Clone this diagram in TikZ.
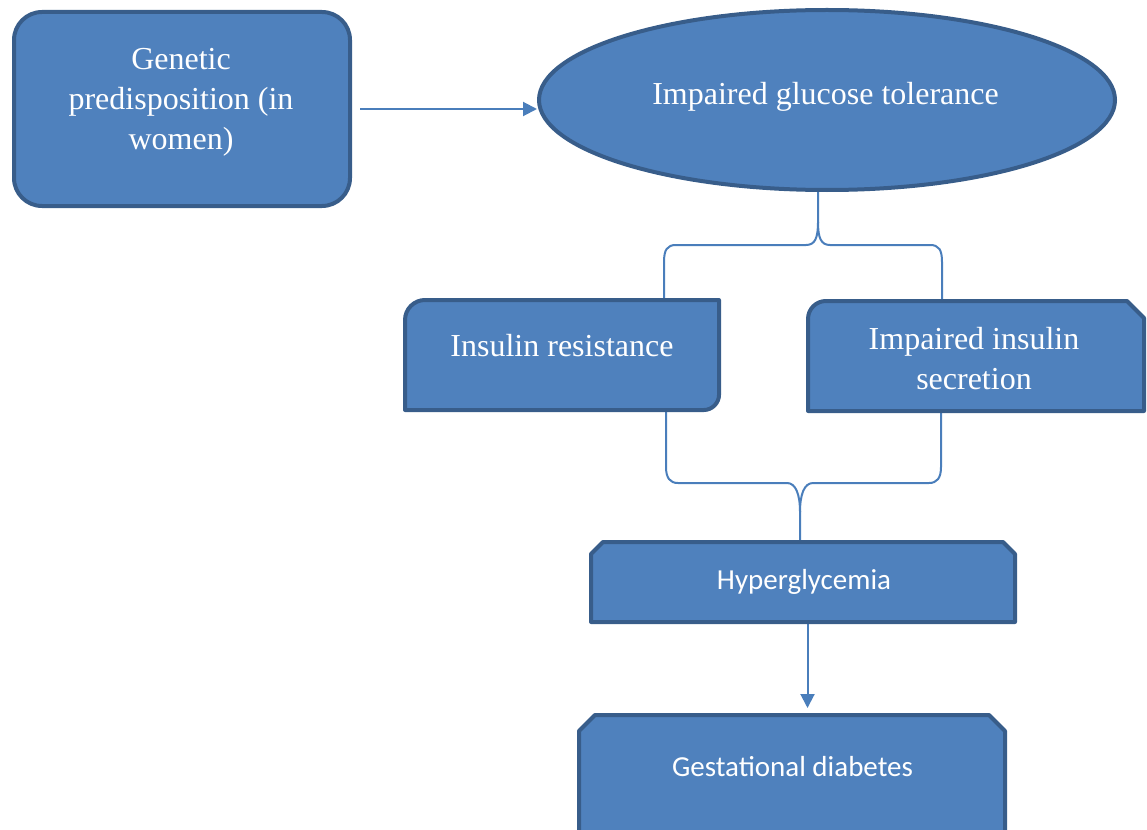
\documentclass[tikz,border=0pt]{standalone}
\usepackage{fontspec}
\setmainfont{Liberation Serif}
\newfontfamily\calibri{Carlito}
\usetikzlibrary{shapes.geometric,arrows.meta}
\definecolor{boxfill}{HTML}{4F81BD}
\definecolor{boxline}{HTML}{385D8A}
\definecolor{connc}{HTML}{4A7EBB}
\begin{document}
\begin{tikzpicture}[x=1pt,y=-1pt,
  shapebox/.style={fill=boxfill, draw=boxline, line width=4pt, line join=round},
  serif/.style={text=white, font=\fontsize{32}{40}\selectfont, inner sep=0pt, anchor=base, align=center},
  sans/.style={text=white, font=\calibri\fontsize{29}{36}\selectfont, inner sep=0pt, anchor=base, align=center},
  connector/.style={draw=connc, line width=2pt},
  arrowline/.style={connector, -{Triangle[length=14pt,width=14pt]}}]
\useasboundingbox (0,0) rectangle (1147,829);
\clip (0,0) rectangle (1147,829);
% named connector points
\coordinate (a1s) at (360,109);
\coordinate (a1e) at (537,109);
\coordinate (b1tip) at (818,190);
\coordinate (b1l) at (664,301);
\coordinate (b1r) at (942,302);
\coordinate (b2l) at (666,409);
\coordinate (b2r) at (941,409);
\coordinate (b2tip) at (800,542);
\coordinate (a2s) at (807.5,622);
\coordinate (a2e) at (807.5,708);
% connectors
\draw[arrowline] (a1s) -- (a1e);
\draw[connector] (b1tip) -- (818,222) .. controls (818,238) and (815,245) .. (806,245)
  -- (676,245) .. controls (667,245) and (664,250) .. (664,262) -- (b1l);
\draw[connector] (818,222) .. controls (818,238) and (821,245) .. (830,245)
  -- (930,245) .. controls (939,245) and (942,250) .. (942,262) -- (b1r);
\draw[connector] (b2l) -- (666,467) .. controls (666,478) and (670,483) .. (678,483)
  -- (787,483) .. controls (796,483) and (800,495) .. (800,512) -- (b2tip);
\draw[connector] (b2r) -- (941,467) .. controls (941,478) and (937,483) .. (929,483)
  -- (813,483) .. controls (804,483) and (800,495) .. (800,512);
\draw[arrowline] (a2s) -- (a2e);
% shapes
\node[shapebox, rounded corners=28pt, minimum width=336pt, minimum height=194pt, inner sep=0pt] (genbox) at (182,109) {};
\node[shapebox, ellipse, minimum width=576pt, minimum height=180pt, inner sep=0pt] (igtbox) at (827,100) {};
\draw[shapebox] (405,410) -- (405,320) .. controls (405,309) and (414,300) .. (425,300)
  -- (719,300) -- (719,395) .. controls (719,403) and (712,410) .. (704,410) -- cycle;
\draw[shapebox] (808,411) -- (808,319) .. controls (808,309) and (816,301) .. (826,301)
  -- (1127,301) -- (1144,318) -- (1144,411) -- cycle;
\draw[shapebox] (591,622) -- (591,554) -- (603,542) -- (1003,542) -- (1015,554) -- (1015,622) -- cycle;
\draw[shapebox] (579,845) -- (579,731) -- (595,715) -- (989,715) -- (1005,731) -- (1005,845) -- cycle;
% texts (multi-line nodes: base = last line's baseline)
\node[serif] (gen) at (181,149.5) {Genetic\\predisposition (in\\women)};
\node[serif] (igt) at (825.5,105) {Impaired glucose tolerance};
\node[serif] (ir) at (562,356.5) {Insulin resistance};
\node[serif] (iis) at (974,389.5) {Impaired insulin\\secretion};
\node[sans] (hyp) at (804,589) {Hyperglycemia};
\node[sans] (gd) at (792.5,776) {Gestational diabetes};
\end{tikzpicture}
\end{document}
